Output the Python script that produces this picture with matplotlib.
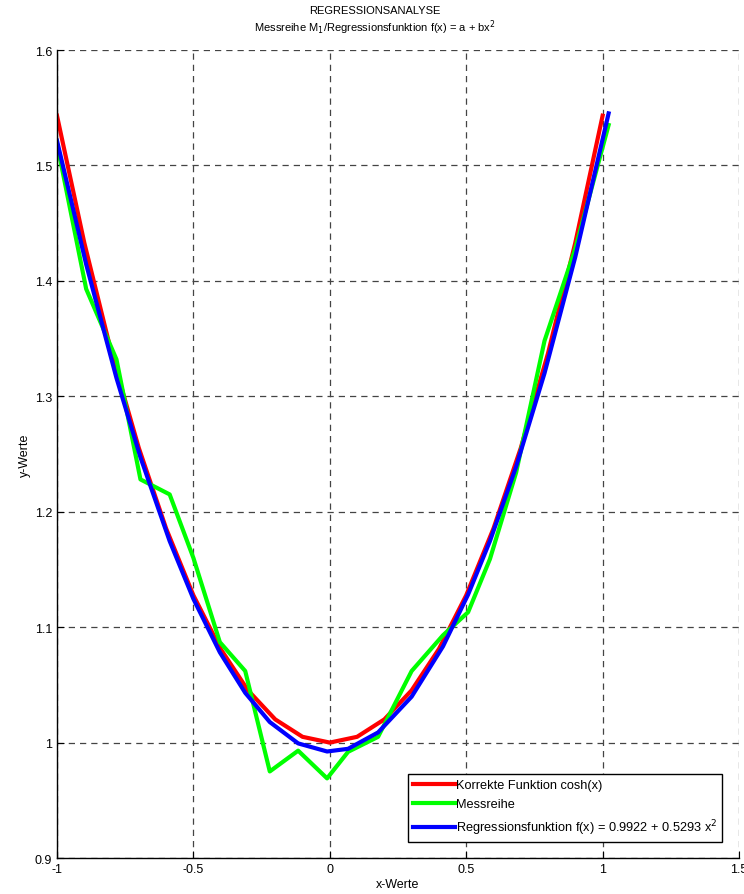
import numpy as np
import matplotlib
matplotlib.use('Agg')
import matplotlib.pyplot as plt
from matplotlib.ticker import FormatStrFormatter

plt.rcParams['font.family'] = ['Liberation Sans', 'DejaVu Sans']

# korrekte Funktion cosh(x), x = -1:0.1:1
x_cosh = [-1.0, -0.9, -0.8, -0.7, -0.6, -0.5, -0.4, -0.3, -0.2, -0.1, 0.0,
          0.1, 0.2, 0.3, 0.4, 0.5, 0.6, 0.7, 0.8, 0.9, 1.0]
y_cosh = [1.5431, 1.4331, 1.3374, 1.2552, 1.1855, 1.1276, 1.0811, 1.0453, 1.0201, 1.0050, 1.0000,
          1.0050, 1.0201, 1.0453, 1.0811, 1.1276, 1.1855, 1.2552, 1.3374, 1.4331, 1.5431]

# Messreihe (x leicht verrauscht)
x_mess = [-1.0, -0.893, -0.782, -0.694, -0.587, -0.5, -0.403, -0.31, -0.22, -0.116, -0.01,
          0.067, 0.177, 0.30, 0.415, 0.507, 0.587, 0.683, 0.787, 0.90, 1.022]
y_mess = [1.519, 1.393, 1.332, 1.228, 1.215, 1.160, 1.087, 1.062, 0.975, 0.993, 0.969,
          0.992, 1.005, 1.062, 1.093, 1.113, 1.159, 1.234, 1.348, 1.428, 1.535]

# Regressionsfunktion an den Messpunkten
y_reg = [1.5215, 1.4143, 1.3159, 1.2471, 1.1746, 1.1245, 1.0782, 1.0431, 1.0178, 0.9993, 0.9923,
         0.9946, 1.0088, 1.0398, 1.0834, 1.1283, 1.1746, 1.2391, 1.3200, 1.4209, 1.5451]

xticks = [-1, -0.5, 0, 0.5, 1, 1.5]
yticks = [0.9, 1.0, 1.1, 1.2, 1.3, 1.4, 1.5, 1.6]

fig = plt.figure(figsize=(7.44, 8.95), dpi=100)
ax = fig.add_axes([0.0766, 0.0402, 0.9167, 0.9028])

ax.plot(x_cosh, y_cosh, color='#ff0000', lw=3, label='Korrekte Funktion cosh(x)')
ax.plot(x_mess, y_mess, color='#00ff00', lw=3, label='Messreihe')
ax.plot(x_mess, y_reg, color='#0000ff', lw=3, label='Regressionsfunktion f(x) = 0.9922 + 0.5293 x$^2$')

ax.set_xlim(-1, 1.5)
ax.set_ylim(0.9, 1.6)
ax.set_xticks(xticks)
ax.set_yticks(yticks)
ax.xaxis.set_major_formatter(FormatStrFormatter('%g'))
ax.yaxis.set_major_formatter(FormatStrFormatter('%g'))
ax.tick_params(direction='in', length=5, labelsize=9, width=0.8)
ax.grid(True, color='#444444', linestyle=(0, (5, 4)), linewidth=0.9)
ax.spines['top'].set_visible(False)
ax.spines['right'].set_visible(False)
ax.spines['left'].set_linewidth(1)
ax.spines['bottom'].set_linewidth(1)

ax.set_xlabel('x-Werte', fontsize=9, labelpad=2)
ax.set_ylabel('y-Werte', fontsize=9, labelpad=3)
ax.set_title('REGRESSIONSANALYSE\nMessreihe M$_1$/Regressionsfunktion f(x) = a + bx$^2$',
             fontsize=8, pad=14, linespacing=1.15, x=0.466)

leg = ax.legend(loc='lower right', bbox_to_anchor=(0.975, 0.02), borderaxespad=0,
                fontsize=9.2, fancybox=False, edgecolor='black', framealpha=1,
                handlelength=3.3, handletextpad=0.05, borderpad=0.4, labelspacing=0.55)
leg.get_frame().set_linewidth(1)

fig.savefig('out.png', dpi=100)
